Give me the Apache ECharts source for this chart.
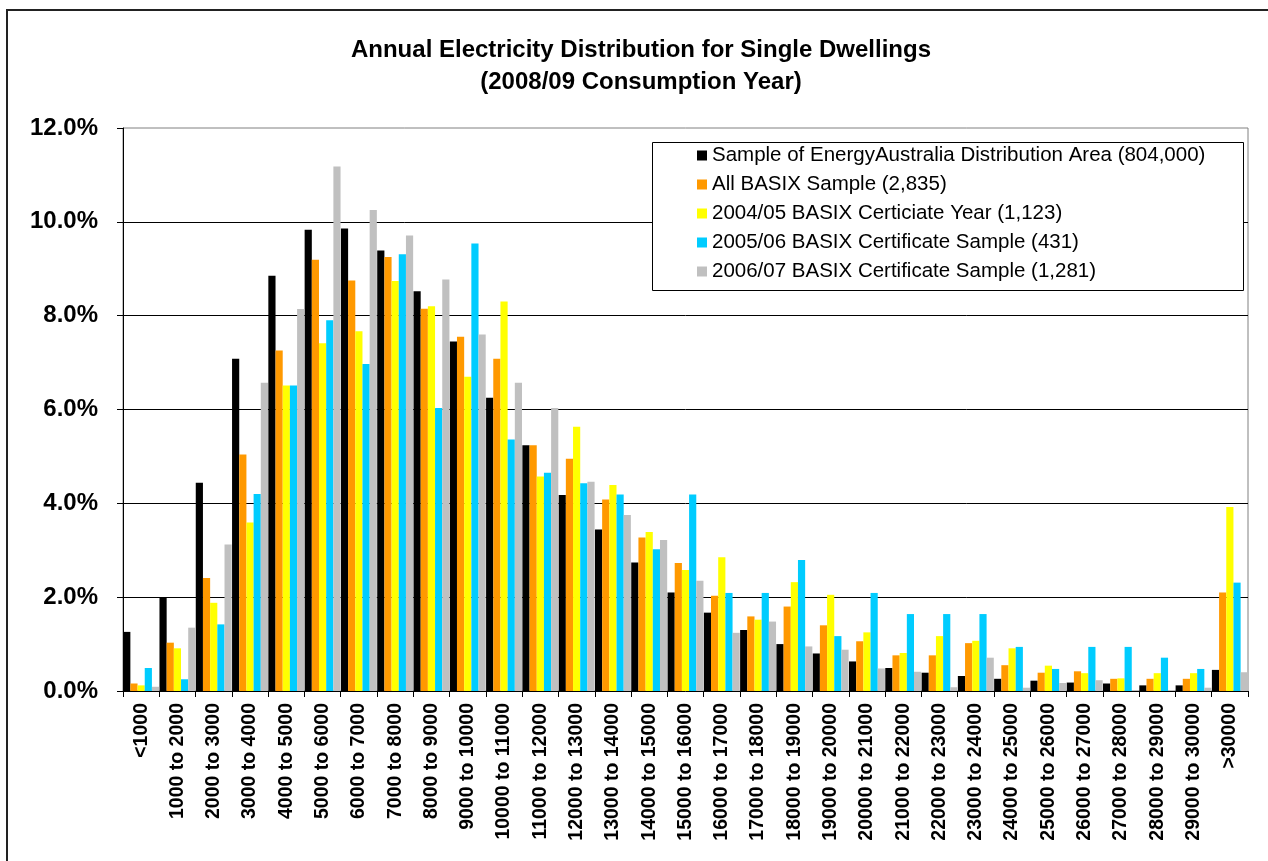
<!DOCTYPE html>
<html>
<head>
<meta charset="utf-8">
<script src="https://cdn.jsdelivr.net/npm/echarts@6/dist/echarts.min.js"></script>
<style>html,body{margin:0;padding:0;background:#fff;}#chart{width:1268px;height:861px;}</style>
</head>
<body>
<div id="chart"></div>
<script>
const categories = ['<1000','1000 to 2000','2000 to 3000','3000 to 4000','4000 to 5000','5000 to 6000','6000 to 7000','7000 to 8000','8000 to 9000','9000 to 10000','10000 to 11000','11000 to 12000','12000 to 13000','13000 to 14000','14000 to 15000','15000 to 16000','16000 to 17000','17000 to 18000','18000 to 19000','19000 to 20000','20000 to 21000','21000 to 22000','22000 to 23000','23000 to 24000','24000 to 25000','25000 to 26000','26000 to 27000','27000 to 28000','28000 to 29000','29000 to 30000','>30000'];

const seriesNames = ['Sample of EnergyAustralia Distribution Area (804,000)','All BASIX Sample (2,835)','2004/05 BASIX Certiciate Year (1,123)','2005/06 BASIX Certificate Sample (431)','2006/07 BASIX Certificate Sample (1,281)'];

const energyAustralia = [1.26,2.00,4.44,7.08,8.85,9.83,9.86,9.39,8.52,7.45,6.25,5.24,4.18,3.44,2.74,2.10,1.67,1.30,1.00,0.80,0.63,0.49,0.39,0.32,0.26,0.22,0.18,0.16,0.12,0.12,0.45];
const allBasix = [0.16,1.03,2.41,5.04,7.26,9.19,8.75,9.25,8.15,7.55,7.08,5.24,4.95,4.08,3.27,2.73,2.03,1.59,1.80,1.40,1.06,0.76,0.76,1.02,0.55,0.39,0.42,0.26,0.26,0.26,2.10];
const basix0405 = [0.12,0.91,1.88,3.59,6.51,7.41,7.67,8.74,8.20,6.70,8.30,4.57,5.63,4.39,3.39,2.58,2.85,1.52,2.32,2.05,1.25,0.81,1.17,1.07,0.91,0.54,0.38,0.27,0.38,0.38,3.92];
const basix0506 = [0.49,0.25,1.42,4.20,6.51,7.90,6.97,9.31,6.03,9.54,5.36,4.65,4.43,4.19,3.02,4.19,2.09,2.09,2.79,1.17,2.09,1.64,1.64,1.64,0.94,0.47,0.94,0.94,0.71,0.47,2.31];
const basix0607 = [0.09,1.35,3.12,6.57,8.14,11.18,10.25,9.71,8.77,7.60,6.57,6.03,4.46,3.75,3.22,2.35,1.24,1.48,0.95,0.88,0.48,0.41,0.08,0.71,0.07,0.17,0.23,0.00,0.00,0.07,0.40];

const yTicks = [0,2,4,6,8,10,12];
const colors = ['#000000','#FF9900','#FFFF00','#00CCFF','#C0C0C0'];
const seriesData = [energyAustralia, allBasix, basix0405, basix0506, basix0607];

const chart = echarts.init(document.getElementById('chart'), null, {renderer:'canvas'});
const FONT = 'Liberation Sans, Arial, sans-serif';

chart.setOption({
  animation: false,
  backgroundColor: '#ffffff',
  title: {
    text: 'Annual Electricity Distribution for Single Dwellings\n(2008/09 Consumption Year)',
    left: 641,
    top: 34,
    padding: 0,
    textAlign: 'center',
    textStyle: {fontFamily: FONT, fontWeight: 'bold', fontSize: 24, lineHeight: 32, color: '#000'}
  },
  graphic: [
    {type:'rect', shape:{x:7, y:10, width:1300, height:1000}, style:{fill:'none', stroke:'#222', lineWidth:2}, z:100},
    {type:'rect', shape:{x:652.5, y:142.5, width:591, height:148}, style:{fill:'#fff', stroke:'#000', lineWidth:1}, z:50}
  ],
  legend: {
    orient: 'vertical',
    left: 697,
    top: 145,
    padding: 0,
    itemGap: 8,
    itemWidth: 10,
    itemHeight: 10,
    icon: 'rect',
    z: 60,
    textStyle: {fontFamily: FONT, fontSize: 20.5, lineHeight: 20, color: '#000'},
    data: seriesNames
  },
  grid: {
    left: 123, right: 20, top: 128, bottom: 170,
    show: true, borderColor: '#808080', borderWidth: 1, backgroundColor: 'transparent'
  },
  xAxis: {
    type: 'category',
    data: categories,
    axisLine: {show: true, lineStyle: {color: '#000', width: 1}},
    axisTick: {show: true, length: 6, lineStyle: {color: '#000'}},
    axisLabel: {rotate: 90, interval: 0, margin: 12, fontFamily: FONT, fontWeight: 'bold', fontSize: 19.5, color: '#000'},
    splitLine: {show: false}
  },
  yAxis: {
    type: 'value',
    min: yTicks[0],
    max: yTicks[yTicks.length-1],
    interval: 2,
    axisLine: {show: true, lineStyle: {color: '#000', width: 1}},
    axisTick: {show: true, length: 6, lineStyle: {color: '#000'}},
    axisLabel: {margin: 25, fontFamily: FONT, fontWeight: 'bold', fontSize: 24, color: '#000',
      formatter: v => v.toFixed(1) + '%'},
    splitLine: {show: true, showMaxLine: false, showMinLine: false, lineStyle: {color: '#000', width: 1}}
  },
  series: seriesNames.map((name, i) => ({
    name: name,
    type: 'bar',
    data: seriesData[i],
    barGap: '0%',
    barCategoryGap: '1%',
    itemStyle: {color: colors[i]}
  }))
});
</script>
</body>
</html>
